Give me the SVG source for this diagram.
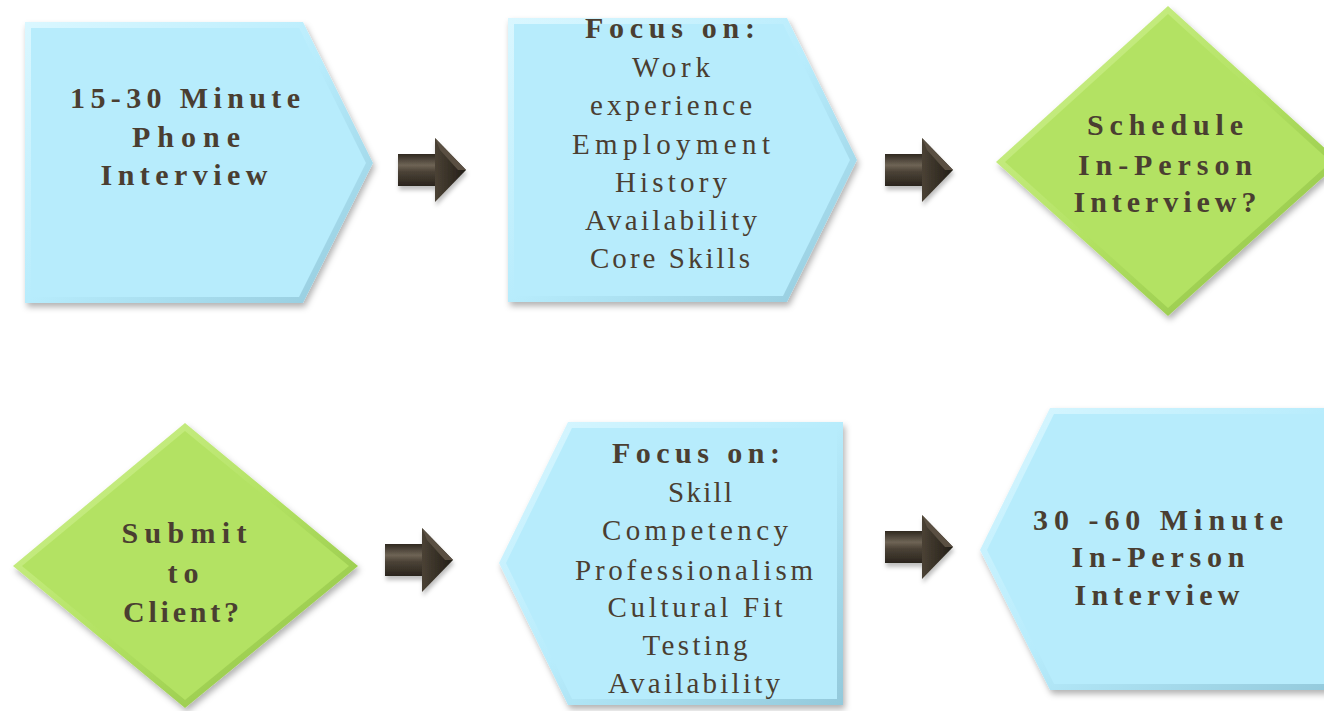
<svg xmlns="http://www.w3.org/2000/svg" xmlns:xlink="http://www.w3.org/1999/xlink" width="1324" height="711" viewBox="0 0 1324 711">
<defs>
<style>
.t{font-family:"Liberation Serif","DejaVu Serif",serif;fill:#4a3e31;text-anchor:middle}
.b{font-weight:bold;font-size:30px}
.r{font-size:29px}
.inB{fill:#b7ecfc}
.inG{fill:#b3e263}
.outB{fill:url(#gB)}
.outG{fill:url(#gG)}
</style>
<linearGradient id="gB" x1="0" y1="0" x2="1" y2="1">
<stop offset="0" stop-color="#daf7ff"/>
<stop offset="0.5" stop-color="#b7ecfc"/>
<stop offset="1" stop-color="#93c9db"/>
</linearGradient>
<linearGradient id="gG" x1="0" y1="0" x2="1" y2="1">
<stop offset="0" stop-color="#d3f396"/>
<stop offset="0.5" stop-color="#b3e263"/>
<stop offset="1" stop-color="#8bbd42"/>
</linearGradient>
<linearGradient id="gA" x1="0" y1="0" x2="0" y2="1">
<stop offset="0" stop-color="#2f2820"/>
<stop offset="0.35" stop-color="#6e6455"/>
<stop offset="0.55" stop-color="#4c4337"/>
<stop offset="1" stop-color="#2a241d"/>
</linearGradient>
<linearGradient id="gH" x1="0" y1="0" x2="1" y2="0">
<stop offset="0" stop-color="#4b4235"/>
<stop offset="1" stop-color="#221d17"/>
</linearGradient>
<filter id="sh" x="-10%" y="-10%" width="130%" height="130%">
<feDropShadow dx="2" dy="4" stdDeviation="3" flood-color="#000" flood-opacity="0.3"/>
</filter>
<filter id="shA" x="-20%" y="-20%" width="150%" height="160%">
<feDropShadow dx="1" dy="4" stdDeviation="2" flood-color="#000" flood-opacity="0.25"/>
</filter>
<g id="arrow" filter="url(#shA)">
<path d="M37,-32 L68,0 L37,32 Z" fill="url(#gH)"/>
<path d="M37,-32 L68,0 L60,0 L42,-20 Z" fill="#5a5042"/>
<path d="M0,-16 L37,-16 L37,16 L0,16 Z" fill="url(#gA)"/>
</g>
</defs>

<g id="node-phone">
<g filter="url(#sh)">
<polygon class="outB" points="25,22 303,22 373,163 303,303 25,303"/>
<polygon class="inB" points="31,28 299,28 366,163 299,297 31,297"/>
</g>
<text class="t b" x="185" y="108" textLength="230" lengthAdjust="spacing">15-30 Minute</text>
<text class="t b" x="186" y="147" textLength="108" lengthAdjust="spacing">Phone</text>
<text class="t b" x="184" y="185" textLength="167" lengthAdjust="spacing">Interview</text>
</g>

<g id="node-focus1">
<g filter="url(#sh)">
<polygon class="outB" points="508,18 787,18 857,160 787,302 508,302"/>
<polygon class="inB" points="514,24 783,24 850,160 783,296 514,296"/>
</g>
<text class="t b" x="670" y="38" textLength="170" lengthAdjust="spacing">Focus on:</text>
<text class="t r" x="671" y="77" textLength="78" lengthAdjust="spacing">Work</text>
<text class="t r" x="671" y="115" textLength="162" lengthAdjust="spacing">experience</text>
<text class="t r" x="671" y="154" textLength="198" lengthAdjust="spacing">Employment</text>
<text class="t r" x="671" y="192" textLength="112" lengthAdjust="spacing">History</text>
<text class="t r" x="671" y="230" textLength="172" lengthAdjust="spacing">Availability</text>
<text class="t r" x="670" y="268" textLength="160" lengthAdjust="spacing">Core Skills</text>
</g>

<g id="node-schedule">
<g filter="url(#sh)">
<polygon class="outG" points="1168,6 1340,162 1168,316 996,162"/>
<polygon class="inG" points="1168,14 1331,162 1168,308 1005,162"/>
</g>
<text class="t b" x="1165" y="135" textLength="156" lengthAdjust="spacing">Schedule</text>
<text class="t b" x="1165" y="175" textLength="174" lengthAdjust="spacing">In-Person</text>
<text class="t b" x="1165" y="212" textLength="183" lengthAdjust="spacing">Interview?</text>
</g>

<g id="node-submit">
<g filter="url(#sh)">
<polygon class="outG" points="185,423 358,566 185,708 13,566"/>
<polygon class="inG" points="185,431 349,566 185,700 22,566"/>
</g>
<text class="t b" x="184" y="543" textLength="125" lengthAdjust="spacing">Submit</text>
<text class="t b" x="183" y="583" textLength="31" lengthAdjust="spacing">to</text>
<text class="t b" x="181" y="622" textLength="116" lengthAdjust="spacing">Client?</text>
</g>

<g id="node-focus2">
<g filter="url(#sh)">
<polygon class="outB" points="499,563 568,422 843,422 843,705 568,705"/>
<polygon class="inB" points="506,563 572,428 837,428 837,699 572,699"/>
</g>
<text class="t b" x="696" y="463" textLength="168" lengthAdjust="spacing">Focus on:</text>
<text class="t r" x="700" y="502" textLength="64" lengthAdjust="spacing">Skill</text>
<text class="t r" x="695" y="540" textLength="186" lengthAdjust="spacing">Competency</text>
<text class="t r" x="694" y="580" textLength="238" lengthAdjust="spacing">Professionalism</text>
<text class="t r" x="695" y="617" textLength="175" lengthAdjust="spacing">Cultural Fit</text>
<text class="t r" x="695" y="655" textLength="105" lengthAdjust="spacing">Testing</text>
<text class="t r" x="694" y="693" textLength="172" lengthAdjust="spacing">Availability</text>
</g>

<g id="node-inperson">
<g filter="url(#sh)">
<polygon class="outB" points="980,550 1050,408 1340,408 1340,690 1050,690"/>
<polygon class="inB" points="987,550 1054,414 1340,414 1340,684 1054,684"/>
</g>
<text class="t b" x="1158" y="530" textLength="250" lengthAdjust="spacing">30 -60 Minute</text>
<text class="t b" x="1158" y="567" textLength="173" lengthAdjust="spacing">In-Person</text>
<text class="t b" x="1157" y="605" textLength="165" lengthAdjust="spacing">Interview</text>
</g>

<g id="connectors">
<use xlink:href="#arrow" href="#arrow" transform="translate(398,170)"/>
<use xlink:href="#arrow" href="#arrow" transform="translate(885,170)"/>
<use xlink:href="#arrow" href="#arrow" transform="translate(385,560)"/>
<use xlink:href="#arrow" href="#arrow" transform="translate(885,547)"/>
</g>
</svg>
